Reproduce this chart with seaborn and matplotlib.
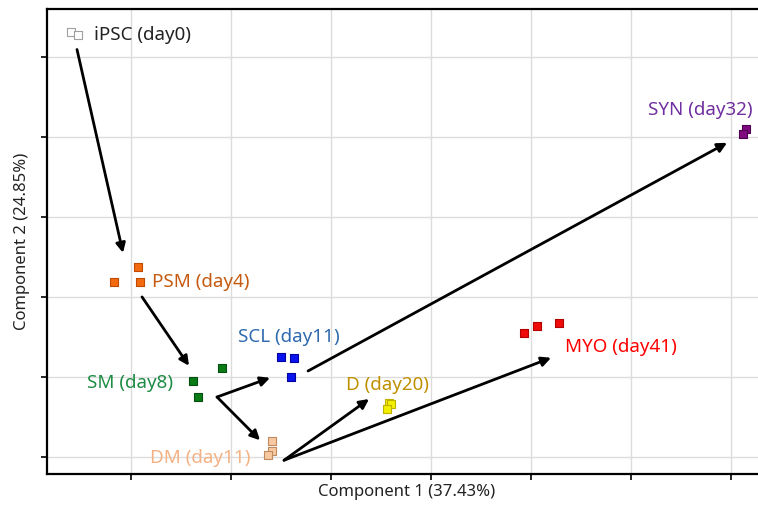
import matplotlib
matplotlib.use("Agg")
import matplotlib.pyplot as plt
import numpy as np
import pandas as pd
import seaborn as sns

# PCA scores per sample (arbitrary units)
groups = ["iPSC", "iPSC", "PSM", "PSM", "PSM", "SM", "SM", "SM",
          "SCL", "SCL", "SCL", "DM", "DM", "DM", "D", "D", "D",
          "MYO", "MYO", "MYO", "SYN", "SYN"]
comp1 = [-36.0, -35.3, -31.7, -29.3, -29.1, -23.8, -20.9, -23.3,
         -15.0, -13.7, -14.0, -15.9, -15.9, -16.3, -4.2, -4.0, -4.4,
         9.3, 10.6, 12.8, 31.5, 31.2]
comp2 = [33.1, 32.75, 1.9, 3.75, 1.9, -10.5, -8.9, -12.5,
         -7.5, -7.6, -10.0, -18.0, -19.25, -19.75, -13.25, -13.4, -14.0,
         -4.5, -3.6, -3.25, 21.0, 20.4]

group_order = ["iPSC", "PSM", "SM", "SCL", "DM", "D", "MYO", "SYN"]
group_labels = ["iPSC (day0)", "PSM (day4)", "SM (day8)", "SCL (day11)",
                "DM (day11)", "D (day20)", "MYO (day41)", "SYN (day32)"]
fill_colors = ["white", "#F26B10", "#0A7A14", "#0A14F0", "#F8C9A0", "#F2F000", "#F00A0A", "#800A80"]
edge_colors = ["#A0A0A0", "#C04A00", "#055010", "#0000A0", "#C08A60", "#C0B000", "#B00000", "#500050"]
text_colors = ["#222222", "#C55A11", "#1E8C45", "#2E6AAE", "#F4B183", "#BF9000", "#FF0000", "#7030A0"]
label_x = [-33.7, -27.9, -34.4, -19.3, -28.1, -8.5, 13.4, 21.7]
label_y = [32.75, 1.9, -10.75, -5.0, -20.1, -11.0, -6.25, 23.4]

# trajectory arrows (start -> end)
arrow_x0 = [-35.4, -28.9, -21.4, -21.4, -12.3, -14.7, -14.7]
arrow_y0 = [30.9, 0.0, -12.5, -12.5, -9.25, -20.4, -20.4]
arrow_x1 = [-30.8, -24.2, -16.1, -17.1, 29.6, -6.2, 12.0]
arrow_y1 = [5.5, -8.6, -10.1, -17.9, 19.25, -12.75, -7.6]

df = pd.DataFrame({"group": groups, "comp1": comp1, "comp2": comp2})

sns.set_theme(style="whitegrid")
plt.rcParams["font.family"] = ["Noto Sans", "DejaVu Sans"]

fig = plt.figure(figsize=(7.58, 5.09), dpi=100)
ax = fig.add_axes([0.062, 0.069, 0.95, 0.914])

for i, g in enumerate(group_order):
    sub = df[df["group"] == g]
    sns.scatterplot(data=sub, x="comp1", y="comp2", marker="s", s=34,
                    color=fill_colors[i], edgecolor=edge_colors[i],
                    linewidth=0.8, ax=ax, zorder=3)
    ax.text(label_x[i], label_y[i], group_labels[i], color=text_colors[i],
            fontsize=13.5, va="center", ha="left", zorder=4)

for x0, y0, x1, y1 in zip(arrow_x0, arrow_y0, arrow_x1, arrow_y1):
    ax.annotate("", xy=(x1, y1), xytext=(x0, y0),
                arrowprops=dict(arrowstyle="-|>", color="black", lw=2,
                                mutation_scale=14, shrinkA=0, shrinkB=0),
                zorder=5)

ax.set_xlim(-38.4, 33.6)
ax.set_ylim(-22.1, 36.0)
ax.set_xticks(np.arange(-30, 31, 10))
ax.set_yticks(np.arange(-20, 31, 10))
ax.grid(True, color="#DCDCDC", lw=1)
ax.tick_params(length=4, width=1.2, color="black", labelbottom=False, labelleft=False,
               bottom=True, left=True)
for side in ["left", "bottom", "top"]:
    ax.spines[side].set_color("black")
    ax.spines[side].set_linewidth(1.6)
ax.spines["right"].set_visible(False)

ax.set_xlabel("Component 1 (37.43%)", fontsize=12, color="#222222", labelpad=3)
ax.set_ylabel("Component 2 (24.85%)", fontsize=12, color="#222222", labelpad=8)

fig.savefig("out.png", dpi=100)
